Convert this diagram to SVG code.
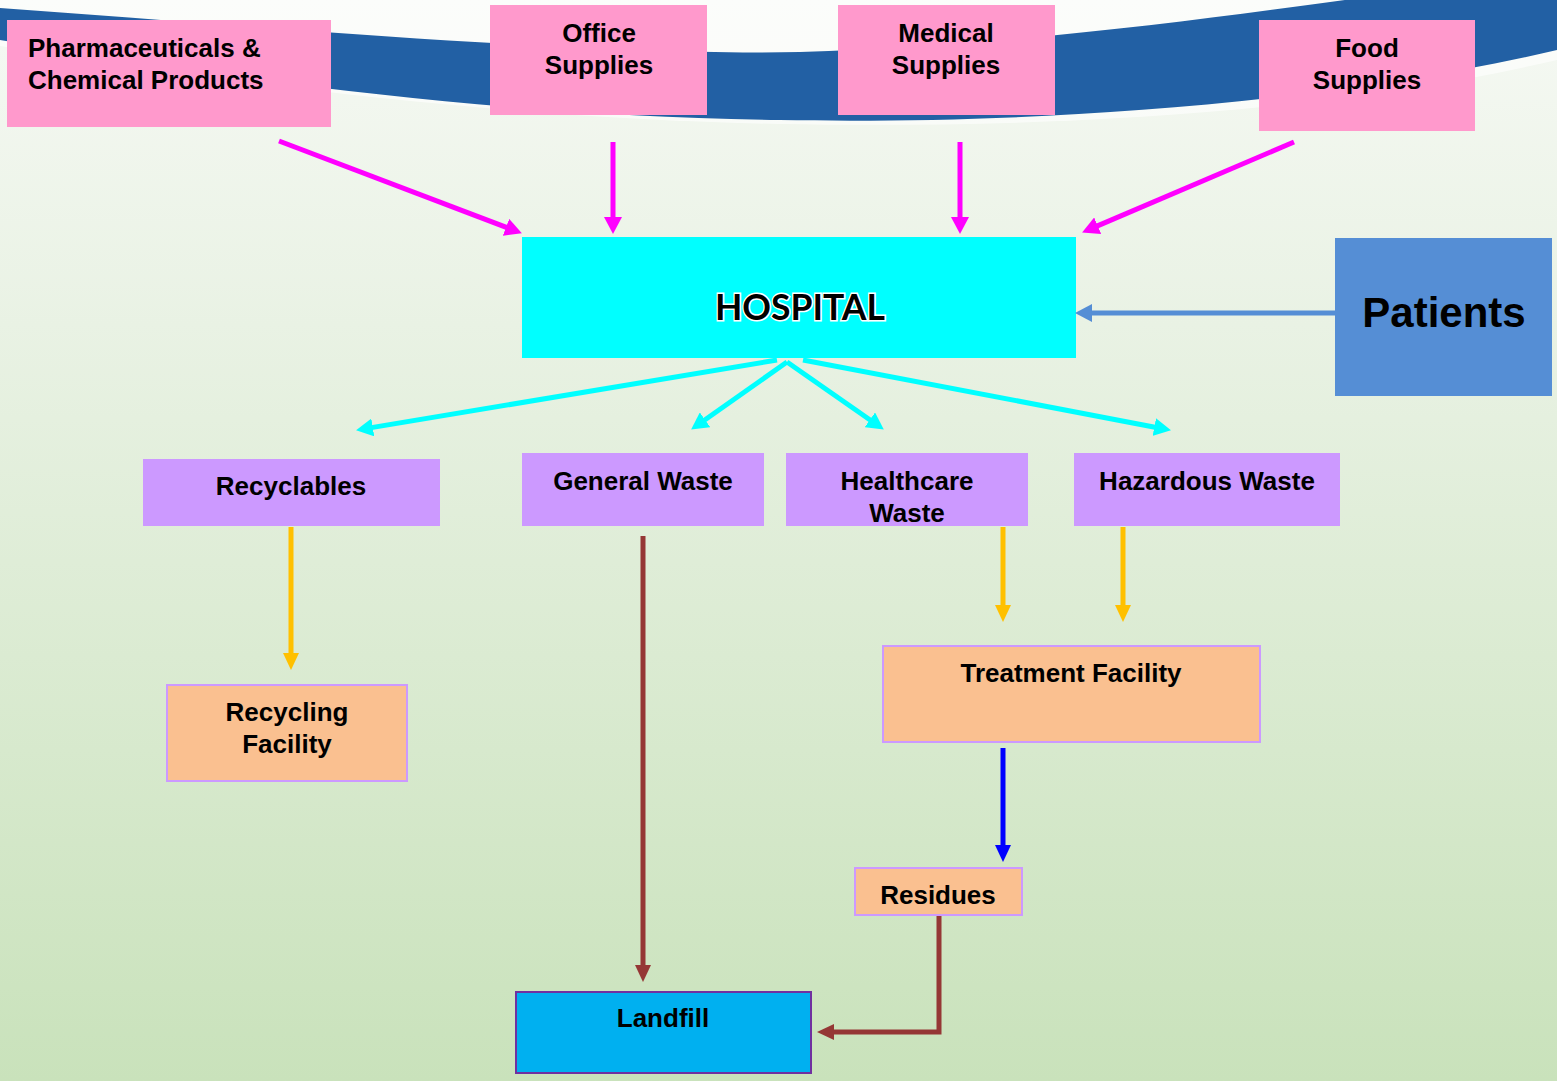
<svg xmlns="http://www.w3.org/2000/svg" width="1557" height="1081" viewBox="0 0 1557 1081">
<defs>
<linearGradient id="bg" x1="0" y1="0" x2="0" y2="1">
<stop offset="0" stop-color="#f6f9f4"/>
<stop offset="0.3" stop-color="#e9f2e4"/>
<stop offset="1" stop-color="#c9e2bb"/>
</linearGradient>
<marker id="mMag" markerUnits="userSpaceOnUse" markerWidth="18" markerHeight="18" refX="6" refY="9" orient="auto"><path d="M0,0 L17,9 L0,18 Z" fill="#ff00ff"/></marker>
<marker id="mCyan" markerUnits="userSpaceOnUse" markerWidth="18" markerHeight="18" refX="6" refY="9" orient="auto"><path d="M0,0 L17,9 L0,18 Z" fill="#00ffff"/></marker>
<marker id="mYel" markerUnits="userSpaceOnUse" markerWidth="18" markerHeight="18" refX="6" refY="8" orient="auto"><path d="M0,0 L17,8 L0,16 Z" fill="#ffc000"/></marker>
<marker id="mBlue" markerUnits="userSpaceOnUse" markerWidth="18" markerHeight="18" refX="6" refY="8" orient="auto"><path d="M0,0 L17,8 L0,16 Z" fill="#0000ff"/></marker>
<marker id="mBrown" markerUnits="userSpaceOnUse" markerWidth="18" markerHeight="18" refX="6" refY="8" orient="auto"><path d="M0,0 L17,8 L0,16 Z" fill="#953735"/></marker>
<marker id="mPat" markerUnits="userSpaceOnUse" markerWidth="18" markerHeight="18" refX="6" refY="9" orient="auto"><path d="M0,0 L17,9 L0,18 Z" fill="#558ed5"/></marker>
</defs>
<style>
text{font-family:"Liberation Sans",Arial,sans-serif;font-weight:bold;fill:#000;}
.c{text-anchor:middle;}
.t26{font-size:26px;}
.pink{fill:#ff99cc;}
.purple{fill:#cc99ff;}
.peach{fill:#fac090;stroke:#cc99ff;stroke-width:2;}
.conn line,.conn path{fill:none;}
.mag{stroke:#ff00ff;stroke-width:5;marker-end:url(#mMag);}
.cyan{stroke:#00ffff;stroke-width:5;marker-end:url(#mCyan);}
.yel{stroke:#ffc000;stroke-width:5;marker-end:url(#mYel);}
.blue{stroke:#0000ff;stroke-width:5;marker-end:url(#mBlue);}
.brown{stroke:#953735;stroke-width:5;marker-end:url(#mBrown);}
.pat{stroke:#558ed5;stroke-width:5;marker-end:url(#mPat);}
</style>
<rect x="0" y="0" width="1557" height="1081" fill="url(#bg)"/>
<path d="M0,0 H1557 V60 C1300,120 1000,128 780,124 C500,118 250,86 0,46 Z" fill="#ffffff" opacity="0.6"/>
<path d="M0,8 C300,30 600,56 800,52 C1050,44 1250,12 1420,-10 L1557,-10 L1557,50 C1300,110 1000,124 780,120 C500,116 250,82 0,40 Z" fill="#2260a4"/>

<g id="pharma"><rect class="pink" x="7" y="20" width="324" height="107"/><text class="t26" x="28" y="57">Pharmaceuticals &amp;</text><text class="t26" x="28" y="89">Chemical Products</text></g>
<g id="office"><rect class="pink" x="490" y="5" width="217" height="110"/><text class="t26 c" x="599" y="42">Office</text><text class="t26 c" x="599" y="74">Supplies</text></g>
<g id="medical"><rect class="pink" x="838" y="5" width="217" height="110"/><text class="t26 c" x="946" y="42">Medical</text><text class="t26 c" x="946" y="74">Supplies</text></g>
<g id="food"><rect class="pink" x="1259" y="20" width="216" height="111"/><text class="t26 c" x="1367" y="57">Food</text><text class="t26 c" x="1367" y="89">Supplies</text></g>

<g id="hospital"><rect x="522" y="237" width="554" height="121" fill="#00ffff"/><text class="c" x="800" y="320" style="font-family:Lato,'Open Sans',sans-serif;font-size:37px;stroke:#ffffff;stroke-width:3;paint-order:stroke;" textLength="170" lengthAdjust="spacingAndGlyphs">HOSPITAL</text></g>
<g id="patients"><rect x="1335" y="238" width="217" height="158" fill="#558ed5"/><text class="c" x="1444" y="327" style="font-size:42px">Patients</text></g>

<g id="recyclables"><rect class="purple" x="143" y="459" width="297" height="67"/><text class="t26 c" x="291" y="495">Recyclables</text></g>
<g id="general"><rect class="purple" x="522" y="453" width="242" height="73"/><text class="t26 c" x="643" y="490">General Waste</text></g>
<g id="healthcare"><rect class="purple" x="786" y="453" width="242" height="73"/><text class="t26 c" x="907" y="490">Healthcare</text><text class="t26 c" x="907" y="522">Waste</text></g>
<g id="hazardous"><rect class="purple" x="1074" y="453" width="266" height="73"/><text class="t26 c" x="1207" y="490">Hazardous Waste</text></g>

<g id="recycling"><rect class="peach" x="167" y="685" width="240" height="96"/><text class="t26 c" x="287" y="721">Recycling</text><text class="t26 c" x="287" y="753">Facility</text></g>
<g id="treatment"><rect class="peach" x="883" y="646" width="377" height="96"/><text class="t26 c" x="1071" y="682">Treatment Facility</text></g>
<g id="residues"><rect class="peach" x="855" y="868" width="167" height="47"/><text class="t26 c" x="938" y="904">Residues</text></g>
<g id="landfill"><rect x="516" y="992" width="295" height="81" fill="#00b0f0" stroke="#7030a0" stroke-width="2"/><text class="t26 c" x="663" y="1027">Landfill</text></g>

<g id="connectors" class="conn">
<line class="mag" x1="279" y1="141" x2="511.6" y2="229.4"/>
<line class="mag" x1="613" y1="142" x2="613" y2="223"/>
<line class="mag" x1="960" y1="142" x2="960" y2="223"/>
<line class="mag" x1="1294" y1="142" x2="1092.2" y2="228.1"/>
<line class="pat" x1="1335" y1="313" x2="1086" y2="313"/>
<line class="cyan" x1="777" y1="360" x2="366.9" y2="428.4"/>
<line class="cyan" x1="787" y1="362" x2="700.1" y2="423.2"/>
<line class="cyan" x1="787" y1="362" x2="874.8" y2="423.2"/>
<line class="cyan" x1="803" y1="360" x2="1160.2" y2="428.2"/>
<line class="yel" x1="291" y1="527" x2="291" y2="659"/>
<line class="yel" x1="1003" y1="527" x2="1003" y2="611"/>
<line class="yel" x1="1123" y1="527" x2="1123" y2="611"/>
<line class="blue" x1="1003" y1="748" x2="1003" y2="851"/>
<line class="brown" x1="643" y1="536" x2="643" y2="971"/>
<path class="brown" d="M939,916 V1032 H828"/>
</g>
</svg>
